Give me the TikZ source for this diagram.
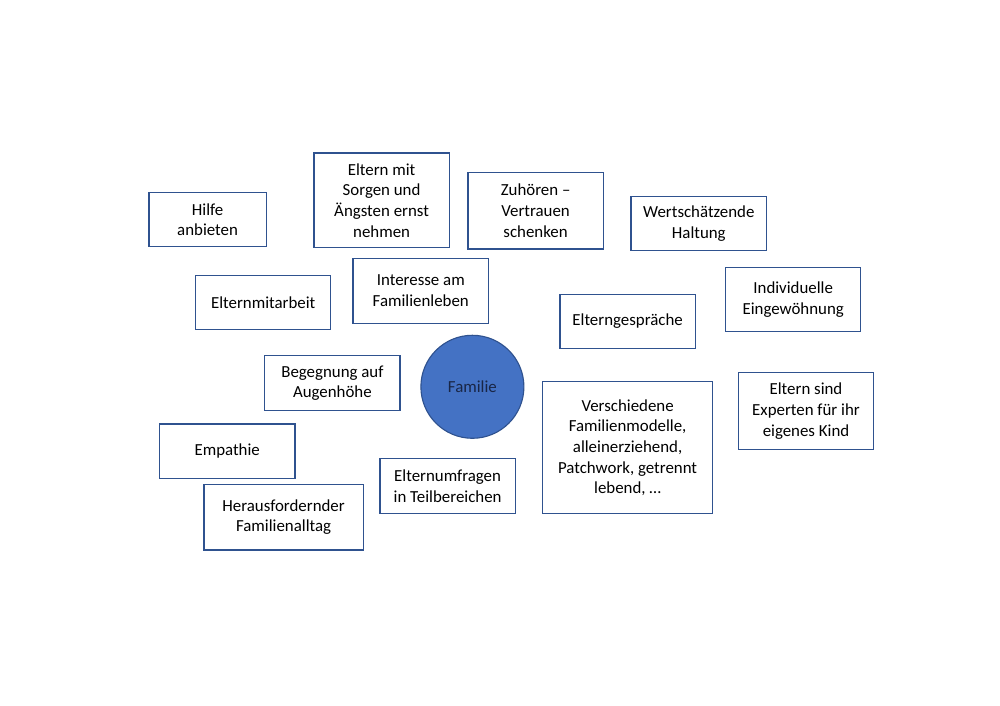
\documentclass[tikz,border=0pt]{standalone}
\usepackage{fontspec}
\setmainfont{Carlito}
\usepackage{tikz}
\usetikzlibrary{positioning}
\usepackage{xcolor}
\definecolor{boxblue}{RGB}{47,82,143}
\definecolor{officeblue}{RGB}{68,114,196}
\definecolor{navytext}{RGB}{25,38,70}

\tikzset{
  topic/.style={draw=boxblue, line width=0.8pt, fill=white, align=center,
    inner sep=0pt, font=\fontsize{12}{14.7}\selectfont},
  centre/.style={circle, draw=boxblue, line width=0.8pt, fill=officeblue,
    text=navytext, inner sep=0pt, minimum size=2.575cm,
    font=\fontsize{12}{14.7}\selectfont}
}

\begin{document}
\begin{tikzpicture}
  % page frame
  \useasboundingbox (0,0) rectangle (25,17.65);
  % centre
  \node[centre] (familie) at (11.81,7.98) {Familie};
  % top row
  \node[topic, minimum width=2.93cm, minimum height=1.35cm] (hilfe) at (5.19,12.16)
    {Hilfe\\anbieten};
  \node[topic, minimum width=3.38cm, minimum height=2.37cm] (sorgen) at (9.54,12.64)
    {Eltern mit\\Sorgen und\\Ängsten ernst\\nehmen};
  \node[topic, minimum width=3.38cm, minimum height=1.91cm] (zuhoeren) at (13.39,12.38)
    {Zuhören --\\Vertrauen\\schenken};
  \node[topic, minimum width=3.39cm, minimum height=1.35cm] (haltung) at (17.47,12.06)
    {Wertschätzende\\Haltung};
  % second row
  \node[topic, minimum width=3.38cm, minimum height=1.34cm] (mitarbeit) at (6.58,10.09)
    {Elternmitarbeit};
  \node[topic, minimum width=3.39cm, minimum height=1.63cm] (interesse) at (10.52,10.38)
    {Interesse am\\Familienleben};
  \node[topic, minimum width=3.38cm, minimum height=1.35cm] (gespraeche) at (15.69,9.62)
    {Elterngespräche};
  \node[topic, minimum width=3.38cm, minimum height=1.61cm] (eingewoehnung) at (19.83,10.16)
    {Individuelle\\Eingewöhnung};
  % around the circle
  \node[topic, minimum width=3.38cm, minimum height=1.37cm] (begegnung) at (8.31,8.07)
    {Begegnung auf\\Augenhöhe};
  \node[topic, minimum width=4.24cm, minimum height=3.29cm] (modelle) at (15.69,6.46)
    {Verschiedene\\Familienmodelle,\\alleinerziehend,\\Patchwork, getrennt\\lebend, …};
  \node[topic, minimum width=3.39cm, minimum height=1.93cm] (experten) at (20.15,7.37)
    {Eltern sind\\Experten für ihr\\eigenes Kind};
  % bottom
  \node[topic, minimum width=3.39cm, minimum height=1.36cm] (empathie) at (5.68,6.37)
    {Empathie};
  \node[topic, minimum width=3.38cm, minimum height=1.36cm] (umfragen) at (11.19,5.50)
    {Elternumfragen\\in Teilbereichen};
  \node[topic, minimum width=3.98cm, minimum height=1.64cm] (alltag) at (7.09,4.72)
    {Herausfordernder\\Familienalltag};
\end{tikzpicture}
\end{document}
